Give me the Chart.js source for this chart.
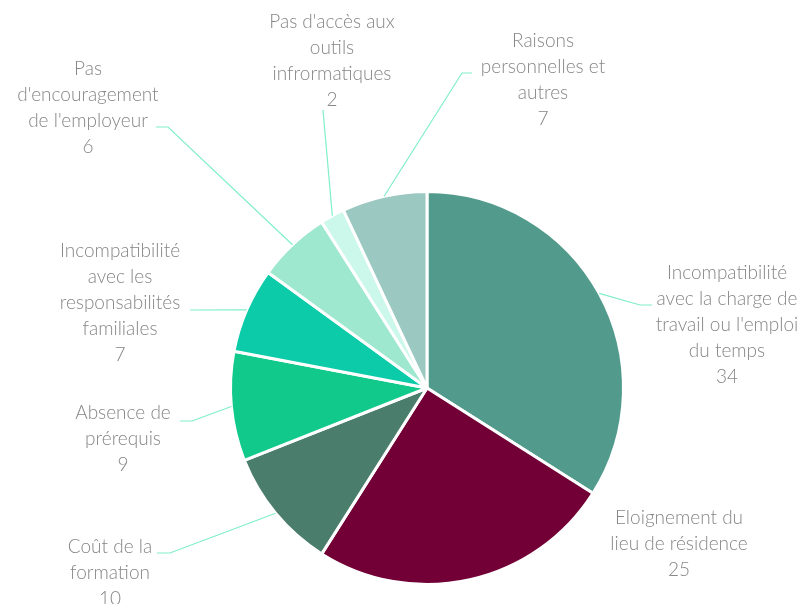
<!DOCTYPE html>
<html>
<head>
<meta charset="utf-8">
<script src="https://cdn.jsdelivr.net/npm/chart.js@4/dist/chart.umd.min.js"></script>
<style>
  html, body { margin: 0; padding: 0; background: #fff; }
  #wrap { width: 807px; height: 604px; position: relative; }
</style>
</head>
<body>
<div id="wrap"><canvas id="chart" width="807" height="604"></canvas></div>
<script>
// categories (one entry per slice, lines as they wrap in the picture)
const categories = [
  ["Incompatibilité", "avec la charge de", "travail ou l'emploi", "du temps"],
  ["Eloignement du", "lieu de résidence"],
  ["Coût de la", "formation"],
  ["Absence de", "prérequis"],
  ["Incompatibilité", "avec les", "responsabilités", "familiales"],
  ["Pas", "d'encouragement", "de l'employeur"],
  ["Pas d'accès aux", "outils", "infrormatiques"],
  ["Raisons", "personnelles et", "autres"]
];
const values = [34, 25, 10, 9, 7, 6, 2, 7];
const colors = ['#529b8c', '#720036', '#4a7d6b', '#10c98b', '#0ccba8', '#9ee8d0', '#cbf8ea', '#9bc8c1'];

// label placement: text centre x, first line y, leader bend points
const labelLayout = [
  { x: 727, y: 273, leader: [[640, 305], [652, 305]] },
  { x: 679, y: 518, leader: null },
  { x: 110, y: 547, leader: [[170, 553], [157, 553]] },
  { x: 123, y: 413, leader: [[192, 421], [180, 421]] },
  { x: 120, y: 251, leader: [[190, 310]] },
  { x: 88,  y: 69,  leader: [[168, 127], [156, 127]] },
  { x: 332, y: 22,  leader: [[323, 110]] },
  { x: 543, y: 41,  leader: [[462, 73], [472, 73]] }
];

const outsideLabels = {
  id: 'outsideLabels',
  afterDraw(chart) {
    const ctx = chart.ctx;
    const meta = chart.getDatasetMeta(0);
    ctx.save();
    meta.data.forEach((arc, i) => {
      const p = arc.getProps(['x', 'y', 'startAngle', 'endAngle', 'outerRadius'], true);
      const mid = (p.startAngle + p.endAngle) / 2;
      const lay = labelLayout[i];
      if (lay.leader) {
        ctx.strokeStyle = '#80eec9';
        ctx.lineWidth = 1.2;
        ctx.beginPath();
        ctx.moveTo(p.x + Math.cos(mid) * p.outerRadius, p.y + Math.sin(mid) * p.outerRadius);
        lay.leader.forEach(pt => ctx.lineTo(pt[0], pt[1]));
        ctx.stroke();
      }
      ctx.fillStyle = '#868686';
      ctx.font = '300 19px Lato';
      ctx.textAlign = 'center';
      ctx.textBaseline = 'middle';
      const lines = categories[i].concat(String(values[i]));
      lines.forEach((t, k) => ctx.fillText(t, lay.x, lay.y + k * 26));
    });
    ctx.restore();
  }
};

new Chart(document.getElementById('chart'), {
  type: 'pie',
  data: {
    labels: categories.map(c => c.join(' ')),
    datasets: [{
      data: values,
      backgroundColor: colors,
      borderColor: '#ffffff',
      borderWidth: 3
    }]
  },
  options: {
    responsive: false,
    animation: false,
    layout: { padding: { top: 190, bottom: 18, left: 229, right: 182 } },
    plugins: {
      legend: { display: false },
      tooltip: { enabled: false }
    }
  },
  plugins: [outsideLabels]
});
</script>
</body>
</html>
